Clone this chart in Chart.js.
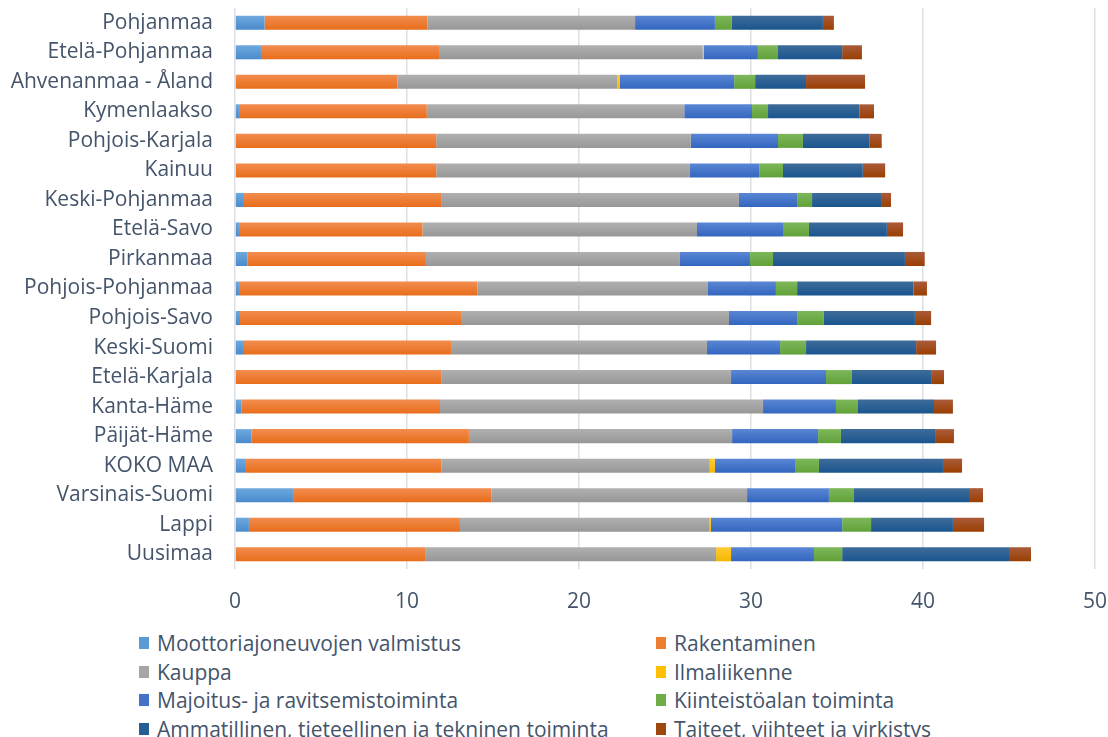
<!DOCTYPE html>
<html lang="fi">
<head>
    <meta charset="UTF-8">
    <title>Toimialat maakunnittain</title>
</head>
<body>

<div id="wrap"><canvas id="myChart"></canvas></div>
<div id="legend"></div>

</body>

<script src="https://cdn.jsdelivr.net/npm/chart.js"></script>

<script>
    const maakunnat = ['Pohjanmaa', 'Etelä-Pohjanmaa', 'Ahvenanmaa - Åland', 'Kymenlaakso', 'Pohjois-Karjala',
        'Kainuu', 'Keski-Pohjanmaa', 'Etelä-Savo', 'Pirkanmaa', 'Pohjois-Pohjanmaa', 'Pohjois-Savo', 'Keski-Suomi',
        'Etelä-Karjala', 'Kanta-Häme', 'Päijät-Häme', 'KOKO MAA', 'Varsinais-Suomi', 'Lappi', 'Uusimaa'];

    // arvot luettu kuvasta, järjestys sama kuin maakunnat
    const moottori     = [1.72, 1.51, 0, 0.23, 0, 0, 0.52, 0.23, 0.73, 0.23, 0.29, 0.52, 0, 0.37, 0.95, 0.58, 3.37, 0.81, 0];
    const rakentaminen = [9.47, 10.35, 9.45, 10.92, 11.7, 11.7, 11.46, 10.67, 10.37, 13.87, 12.85, 12.04, 12.02, 11.55, 12.65, 11.42, 11.53, 12.27, 11.05];
    const kauppa       = [12.07, 15.34, 12.77, 14.97, 14.8, 14.75, 17.32, 15.96, 14.77, 13.4, 15.58, 14.88, 16.82, 18.78, 15.3, 15.6, 14.87, 14.52, 16.92];
    const ilmaliikenne = [0, 0.06, 0.16, 0, 0, 0, 0, 0, 0, 0, 0, 0, 0, 0, 0, 0.3, 0, 0.07, 0.87];
    const majoitus     = [4.64, 3.14, 6.64, 3.94, 5.07, 4.05, 3.38, 5.0, 4.07, 3.95, 3.96, 4.25, 5.52, 4.24, 5.0, 4.66, 4.76, 7.63, 4.82];
    const kiinteisto   = [0.99, 1.17, 1.22, 0.93, 1.45, 1.36, 0.87, 1.51, 1.34, 1.23, 1.56, 1.51, 1.51, 1.28, 1.33, 1.39, 1.46, 1.68, 1.64];
    const ammatillinen = [5.29, 3.73, 2.96, 5.31, 3.88, 4.64, 4.01, 4.53, 7.67, 6.77, 5.29, 6.4, 4.6, 4.42, 5.47, 7.21, 6.74, 4.76, 9.7];
    const taiteet      = [0.64, 1.15, 3.43, 0.85, 0.7, 1.3, 0.58, 0.94, 1.15, 0.78, 0.94, 1.16, 0.75, 1.1, 1.1, 1.11, 0.76, 1.81, 1.28];

    const x_min = 0;
    const x_max = 50;
    const x_step = 10;

    const fontti = "'Open Sans', sans-serif";
    const tekstivari = '#44546A';
    const palkki_osuus = 0.475;

    // Excel-tyylinen liukuväri: vaaleampi ylhäältä, tummempi alhaalta
    function liukuvari(ylä, ala) {
        return (context) => {
            const chart = context.chart;
            const y = chart.scales && chart.scales.y;
            if (!chart.chartArea || !y || context.dataIndex === undefined) {
                return ala;
            }
            const keski = y.getPixelForValue(context.dataIndex);
            const korkeus = (chart.chartArea.bottom - chart.chartArea.top) / maakunnat.length * palkki_osuus;
            const g = chart.ctx.createLinearGradient(0, keski - korkeus / 2, 0, keski + korkeus / 2);
            g.addColorStop(0, ylä);
            g.addColorStop(1, ala);
            return g;
        };
    }

    const ctx = document.getElementById('myChart');
    const myChart = new Chart(ctx, {
        type: 'bar',
        data: {
            labels: maakunnat,
            datasets: [
                {label: 'Moottoriajoneuvojen valmistus', data: moottori, backgroundColor: liukuvari('#6EA9DE', '#4A8BCD'), color: '#5B9BD5'},
                {label: 'Rakentaminen', data: rakentaminen, backgroundColor: liukuvari('#F28D4F', '#E86D1B'), color: '#ED7D31'},
                {label: 'Kauppa', data: kauppa, backgroundColor: liukuvari('#B0B0B0', '#979797'), color: '#A5A5A5'},
                {label: 'Ilmaliikenne', data: ilmaliikenne, backgroundColor: liukuvari('#FFCB33', '#F3B600'), color: '#FFC000'},
                {label: 'Majoitus- ja ravitsemistoiminta', data: majoitus, backgroundColor: liukuvari('#5A86D4', '#3366BF'), color: '#4472C4'},
                {label: 'Kiinteistöalan toiminta', data: kiinteisto, backgroundColor: liukuvari('#7DB75B', '#61A139'), color: '#70AD47'},
                {label: 'Ammatillinen, tieteellinen ja tekninen toiminta', data: ammatillinen, backgroundColor: liukuvari('#3E6C9A', '#1A558E'), color: '#255E91'},
                {label: 'Taiteet, viihteet ja virkistys', data: taiteet, backgroundColor: liukuvari('#AA5B3A', '#9A3F02'), color: '#9E480E'},
            ],
        },
        options: {
            indexAxis: 'y',
            responsive: true,
            maintainAspectRatio: false,
            animation: false,
            categoryPercentage: 0.5,
            barPercentage: 0.95,
            layout: {padding: {top: 8, right: 13, left: 0, bottom: 0}},
            plugins: {
                legend: {display: false},
                tooltip: {enabled: false},
            },
            scales: {
                x: {
                    stacked: true,
                    min: x_min,
                    max: x_max,
                    ticks: {stepSize: x_step, padding: 20, color: tekstivari, font: {family: fontti, size: 21}},
                    grid: {color: '#DCE0E6', lineWidth: 1.5, drawTicks: false},
                    border: {display: false},
                    afterFit: (scale) => {
                        scale.height = 56;
                        scale.paddingLeft = 0;
                        scale.paddingRight = 0;
                    },
                },
                y: {
                    stacked: true,
                    ticks: {padding: 22, color: tekstivari, font: {family: fontti, size: 21}},
                    grid: {display: false, drawTicks: false},
                    border: {display: false},
                    afterFit: (scale) => {
                        scale.width = 235;
                        scale.paddingTop = 0;
                        scale.paddingBottom = 0;
                    },
                },
            },
        },
    });

    // legenda kahteen sarakkeeseen kuten Excelissä
    let html = '';
    for (const ds of myChart.data.datasets) {
        html += `<div class="item"><span class="box" style="background:${ds.color}"></span>${ds.label}</div>`;
    }
    document.getElementById('legend').innerHTML = html;
</script>

<style>
    html, body {
        margin: 0;
        padding: 0;
        width: 1108px;
        height: 737px;
        overflow: hidden;
        background: #ffffff;
    }

    #wrap {
        position: absolute;
        left: 0;
        top: 0;
        width: 1108px;
        height: 625px;
    }

    #legend {
        position: absolute;
        left: 139px;
        top: 629px;
        display: grid;
        grid-template-columns: 517px auto;
        grid-auto-rows: 28.5px;
        font-family: 'Open Sans', sans-serif;
        font-size: 21px;
        color: #44546A;
    }

    .item {
        display: flex;
        align-items: center;
        white-space: nowrap;
    }

    .box {
        display: inline-block;
        width: 10px;
        height: 12px;
        margin-right: 8px;
    }
</style>
</html>
